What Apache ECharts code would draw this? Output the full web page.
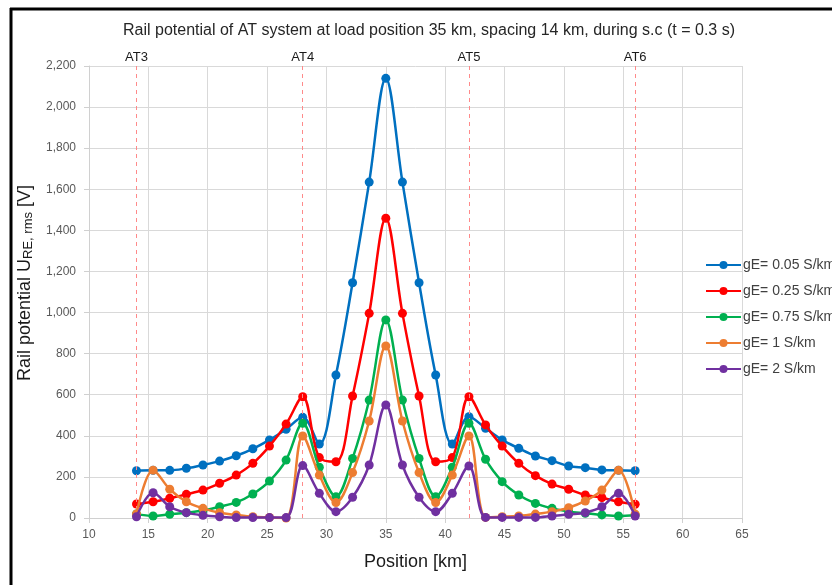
<!DOCTYPE html>
<html>
<head>
<meta charset="utf-8">
<title>Rail potential of AT system</title>
<script src="https://cdn.jsdelivr.net/npm/echarts@6/dist/echarts.min.js"></script>
<style>
  html, body { margin: 0; padding: 0; background: #ffffff; }
  #chart { width: 832px; height: 585px; }
</style>
</head>
<body>
<div id="chart"></div>
<script>
// Positions along the line [km]
var positions = [14, 15.4, 16.8, 18.2, 19.6, 21, 22.4, 23.8, 25.2, 26.6, 28, 29.4, 30.8, 32.2, 33.6, 35,
                 36.4, 37.8, 39.2, 40.6, 42, 43.4, 44.8, 46.2, 47.6, 49, 50.4, 51.8, 53.2, 54.6, 56];

// Rail potential U_RE,rms [V] for each earth conductance
var gE005 = [230, 232, 232, 242, 258, 277, 303, 337, 380, 432, 490, 360, 696, 1145, 1635, 2140,
             1635, 1145, 696, 360, 493, 437, 380, 339, 302, 279, 253, 245, 234, 232, 230];
var gE025 = [68, 79, 96, 115, 136, 169, 209, 266, 350, 457, 590, 294, 274, 594, 996, 1459,
             996, 594, 274, 294, 590, 453, 350, 266, 206, 165, 140, 112, 99, 79, 67];
var gE075 = [20, 10, 18, 26, 36, 55, 76, 117, 180, 282, 461, 247, 104, 290, 574, 964,
             574, 290, 104, 247, 461, 286, 177, 112, 71, 47, 31, 23, 15, 10, 15];
var gE1   = [20, 233, 140, 79, 47, 26, 15, 6, 3, 0, 399, 209, 75, 221, 472, 837,
             472, 221, 75, 209, 399, 3, 6, 10, 19, 31, 50, 83, 136, 233, 19];
var gE2   = [6, 123, 55, 26, 13, 6, 2, 2, 2, 2, 255, 120, 31, 101, 258, 550,
             258, 101, 31, 120, 253, 3, 3, 3, 3, 10, 18, 26, 55, 120, 10];

var seriesNames = ['gE= 0.05 S/km', 'gE= 0.25 S/km', 'gE= 0.75 S/km', 'gE= 1 S/km', 'gE= 2 S/km'];
var seriesColors = ['#0070C0', '#FF0000', '#00B050', '#ED7D31', '#7030A0'];
var seriesValues = [gE005, gE025, gE075, gE1, gE2];

// Autotransformer stations
var atNames = ['AT3', 'AT4', 'AT5', 'AT6'];
var atPositions = [14, 28, 42, 56];

// x-axis and y-axis tick setup
var xMin = 10, xMax = 65, xStep = 5;
var yMin = 0, yMax = 2200, yStep = 200;

var FONT = '"Liberation Sans", Arial, sans-serif';

function pairs(values) {
  return values.map(function (v, i) { return [positions[i], v]; });
}

var series = seriesNames.map(function (name, i) {
  return {
    name: name,
    type: 'line',
    data: pairs(seriesValues[i]),
    smooth: 0.35,
    symbol: 'circle',
    symbolSize: 9,
    lineStyle: { width: 2.5, color: seriesColors[i] },
    itemStyle: { color: seriesColors[i] },
    z: 3 + i
  };
});

// Dashed station markers
series.push({
  name: 'stations',
  type: 'line',
  data: [],
  silent: true,
  markLine: {
    symbol: 'none',
    silent: true,
    animation: false,
    lineStyle: { type: [4, 4], color: '#FF8A8A', width: 1 },
    label: {
      show: true,
      position: 'end',
      distance: 2,
      color: '#1a1a1a',
      fontSize: 13,
      fontFamily: FONT,
      formatter: function (p) { return p.name; }
    },
    data: atPositions.map(function (x, i) { return { name: atNames[i], xAxis: x }; })
  }
});

var chart = echarts.init(document.getElementById('chart'), null, { renderer: 'canvas' });

chart.setOption({
  animation: false,
  backgroundColor: '#ffffff',
  textStyle: { fontFamily: FONT },
  title: {
    text: 'Rail potential of AT system at load position 35 km, spacing 14 km, during s.c (t = 0.3 s)',
    left: 429,
    top: 23,
    padding: 0,
    textAlign: 'center',
    textStyle: { fontSize: 16, fontWeight: 'normal', color: '#262626', fontFamily: FONT }
  },
  legend: {
    data: seriesNames,
    orient: 'vertical',
    left: 705,
    top: 258,
    padding: 0,
    itemWidth: 35,
    itemHeight: 10,
    itemGap: 12,
    textStyle: { fontSize: 14, color: '#404040', fontFamily: FONT, padding: [0, 0, 0, -3] }
  },
  grid: { left: 89, right: 90, top: 66, bottom: 67, containLabel: false },
  xAxis: {
    type: 'value',
    min: xMin,
    max: xMax,
    interval: xStep,
    name: 'Position [km]',
    nameLocation: 'middle',
    nameGap: 35,
    nameTextStyle: { fontSize: 18, color: '#1a1a1a', fontFamily: FONT },
    axisLine: { show: true, lineStyle: { color: '#D0D0D0', width: 1 } },
    axisTick: { show: true, length: 5, lineStyle: { color: '#D0D0D0' } },
    axisLabel: { fontSize: 12, color: '#595959', margin: 11 },
    splitLine: { show: true, lineStyle: { color: '#D9D9D9', width: 1 } }
  },
  yAxis: {
    type: 'value',
    min: yMin,
    max: yMax,
    interval: yStep,
    name: '{a|Rail potential U}{b|RE, rms}{a| [V]}',
    nameLocation: 'middle',
    nameRotate: 90,
    nameGap: 50,
    nameTextStyle: {
      padding: [0, 0, 0, 18],
      rich: {
        a: { fontSize: 18, color: '#1a1a1a', fontFamily: FONT },
        b: { fontSize: 13, color: '#1a1a1a', fontFamily: FONT, padding: [7, 0, 0, 0] }
      }
    },
    axisLine: { show: true, lineStyle: { color: '#D0D0D0', width: 1 } },
    axisTick: { show: true, length: 5, lineStyle: { color: '#D0D0D0' } },
    axisLabel: {
      fontSize: 12,
      color: '#595959',
      margin: 13,
      formatter: function (v) { return v.toLocaleString('en-US'); }
    },
    splitLine: { show: true, lineStyle: { color: '#D9D9D9', width: 1 } }
  },
  graphic: [
    { type: 'line', shape: { x1: 10, y1: 9, x2: 832, y2: 9 }, style: { stroke: '#000', lineWidth: 3 }, silent: true },
    { type: 'line', shape: { x1: 11, y1: 8, x2: 11, y2: 585 }, style: { stroke: '#000', lineWidth: 3 }, silent: true }
  ],
  series: series
});
</script>
</body>
</html>
